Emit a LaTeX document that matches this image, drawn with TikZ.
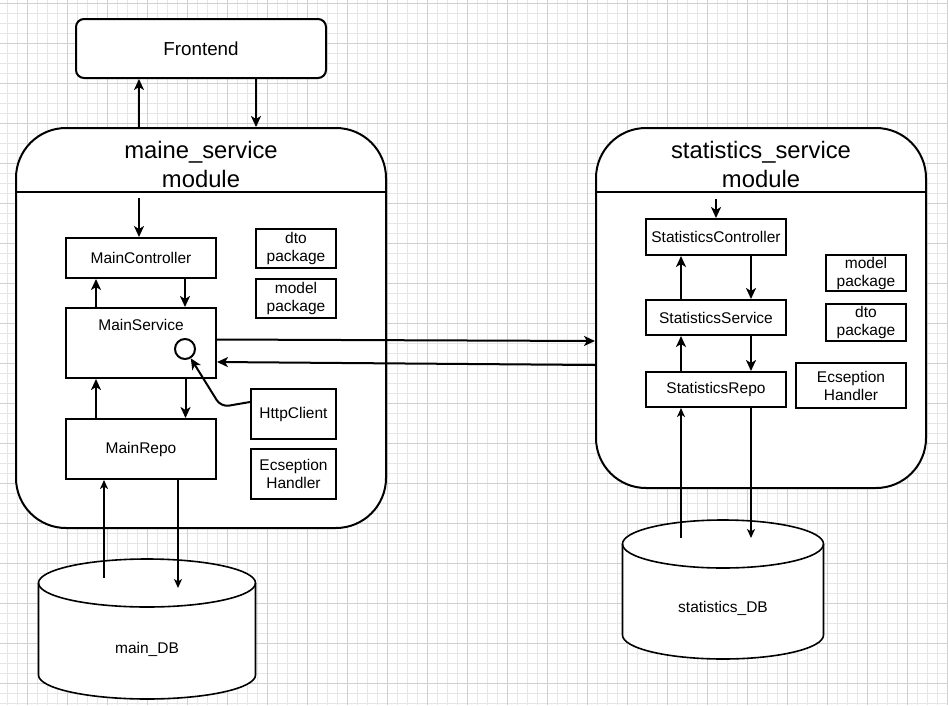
\documentclass[tikz,border=0pt]{standalone}
\usepackage{fontspec}
\setmainfont{Liberation Sans}
\usetikzlibrary{arrows.meta}
\newcommand\smallfs{\fontsize{15.5}{18}\selectfont}
\newcommand\titlefs{\fontsize{23.8}{29}\selectfont}
\newcommand\frontfs{\fontsize{18.8}{22}\selectfont}
\definecolor{gridminor}{HTML}{E6E6E6}
\definecolor{gridmajor}{HTML}{D0D0D0}
\begin{document}
\begin{tikzpicture}[x=1pt,y=-1pt,
  box/.style={draw, line width=2pt, fill=white, inner sep=0pt, align=center, font=\smallfs},
  arr/.style={-{Stealth[length=11pt,width=10pt,inset=3pt]}, line width=2pt},
  dbarr/.style={-{Stealth[length=9pt,width=8pt,inset=2.5pt]}, line width=1.6pt},
  module/.style={draw, line width=2pt, fill=white, rounded corners=50pt, inner sep=0pt},
  cyl/.style={draw, line width=1.6pt, fill=white},
  lbl/.style={font=\smallfs, align=center, inner sep=0pt},
  title/.style={font=\titlefs, align=center, inner sep=0pt}]

\fill[white] (0,0) rectangle (948,705);
\useasboundingbox (0,0) rectangle (948,705);

% grid
\foreach \i in {0,...,94} {\draw[gridminor, line width=1pt] ({7.3+10*\i},0) -- ({7.3+10*\i},705);}
\foreach \i in {0,...,70} {\draw[gridminor, line width=1pt] (0,{3.3+10*\i}) -- (948,{3.3+10*\i});}
\foreach \i in {0,...,23} {\draw[gridmajor, line width=1pt] ({27.3+40*\i},0) -- ({27.3+40*\i},705);}
\foreach \i in {0,...,17} {\draw[gridmajor, line width=1pt] (0,{3.3+40*\i}) -- (948,{3.3+40*\i});}

% frontend
\node[box, font=\frontfs, rounded corners=8pt, minimum width=250pt, minimum height=59pt] (frontend) at (201,48.5) {Frontend};

% main module
\node[module, minimum width=370pt, minimum height=400pt] (main) at (201,328) {};
\draw[line width=1.5pt] (main.west |- 0,192) -- (main.east |- 0,192);
\node[title] (mainTitle) at (201,164) {maine\_service\\module};

\node[box, minimum width=150pt, minimum height=40pt] (mainController) at (141,258) {MainController};
\node[box, minimum width=80pt, minimum height=39pt] (dtoM) at (296,248.5) {dto\\package};
\node[box, minimum width=80pt, minimum height=39pt] (modelM) at (296,298.5) {model\\package};
\node[box, minimum width=150pt, minimum height=70pt,
      label={[lbl, anchor=base, yshift=-23pt]north:MainService}] (mainService) at (141,343) {};
\node[draw, circle, line width=2pt, fill=white, minimum size=20pt, inner sep=0pt] (circ) at (185,349) {};
\node[box, minimum width=85pt, minimum height=50pt] (httpClient) at (293.5,414) {HttpClient};
\node[box, minimum width=85pt, minimum height=50pt] (excM) at (293.5,474) {Ecseption\\Handler};
\node[box, minimum width=150pt, minimum height=60pt] (mainRepo) at (141,449) {MainRepo};

% statistics module
\node[module, minimum width=330pt, minimum height=360pt] (stat) at (761,308) {};
\draw[line width=1.5pt] (stat.west |- 0,192) -- (stat.east |- 0,192);
\node[title] (statTitle) at (761,164) {statistics\_service\\module};

\node[box, minimum width=140pt, minimum height=36pt] (statController) at (716,237) {StatisticsController};
\node[box, minimum width=140pt, minimum height=35pt] (statService) at (716,317.5) {StatisticsService};
\node[box, minimum width=140pt, minimum height=35pt] (statRepo) at (716,389.5) {StatisticsRepo};
\node[box, minimum width=80pt, minimum height=36pt] (modelS) at (866,273) {model\\package};
\node[box, minimum width=80pt, minimum height=37pt] (dtoS) at (866,322.5) {dto\\package};
\node[box, minimum width=110pt, minimum height=45pt] (excS) at (851,385.5) {Ecseption\\Handler};

% databases
\draw[cyl] (38.5,583) -- (38.5,675)
  arc[start angle=180, end angle=360, x radius=108.5pt, y radius=24pt]
  -- (255.5,583)
  arc[start angle=0, end angle=180, x radius=108.5pt, y radius=24pt] -- cycle;
\draw[line width=1.6pt] (38.5,583) arc[start angle=180, end angle=360, x radius=108.5pt, y radius=24pt];
\node[lbl] (mainDB) at (147,649) {main\_DB};

\draw[cyl] (622.5,544) -- (622.5,635)
  arc[start angle=180, end angle=360, x radius=100.5pt, y radius=24pt]
  -- (823.5,544)
  arc[start angle=0, end angle=180, x radius=100.5pt, y radius=24pt] -- cycle;
\draw[line width=1.6pt] (622.5,544) arc[start angle=180, end angle=360, x radius=100.5pt, y radius=24pt];
\node[lbl] (statDB) at (723,608) {statistics\_DB};

% connectors: frontend
\draw[arr] ([xshift=-62pt]main.north) -- ([xshift=-62pt]frontend.south);
\draw[arr] ([xshift=55pt]frontend.south) -- ([xshift=55pt]main.north);

% main module internal
\draw[arr] ([xshift=-2pt,yshift=39pt]mainController.north) -- ([xshift=-2pt]mainController.north);
\draw[arr] ([xshift=-45pt]mainService.north) -- ([xshift=-45pt]mainController.south);
\draw[arr] ([xshift=44pt]mainController.south) -- ([xshift=44pt]mainService.north);
\draw[arr] ([xshift=-45pt]mainRepo.north) -- ([xshift=-45pt]mainService.south);
\draw[arr] ([xshift=44.5pt]mainService.south) -- ([xshift=44.5pt]mainRepo.north);
\coordinate (hbend) at (221,407);
\draw[arr, rounded corners=8pt] ([yshift=12pt]httpClient.west) -- (hbend) -- (circ);

% main repo <-> main DB
\coordinate (mdbUp) at (104,578);
\coordinate (mdbDown) at (178,588);
\draw[dbarr] (mdbUp) -- (mdbUp |- mainRepo.south);
\draw[dbarr] (mainRepo.south -| mdbDown) -- (mdbDown);

% inter-module
\draw[arr] ([yshift=3.5pt]mainService.east) -- ([yshift=-33pt]stat.west);
\draw[arr] ([yshift=-57pt]stat.west) -- ([yshift=-19pt]mainService.east);

% statistics module internal
\draw[arr] ([yshift=19pt]statController.north) -- (statController.north);
\draw[arr] ([xshift=-35pt]statService.north) -- ([xshift=-35pt]statController.south);
\draw[arr] ([xshift=35pt]statController.south) -- ([xshift=35pt]statService.north);
\draw[arr] ([xshift=-35pt]statRepo.north) -- ([xshift=-35pt]statService.south);
\draw[arr] ([xshift=35pt]statService.south) -- ([xshift=35pt]statRepo.north);

% stat repo <-> stat DB
\coordinate (sdbUp) at (681,538);
\coordinate (sdbDown) at (751,538);
\draw[dbarr] (sdbUp) -- (sdbUp |- statRepo.south);
\draw[dbarr] (statRepo.south -| sdbDown) -- (sdbDown);
\end{tikzpicture}
\end{document}
